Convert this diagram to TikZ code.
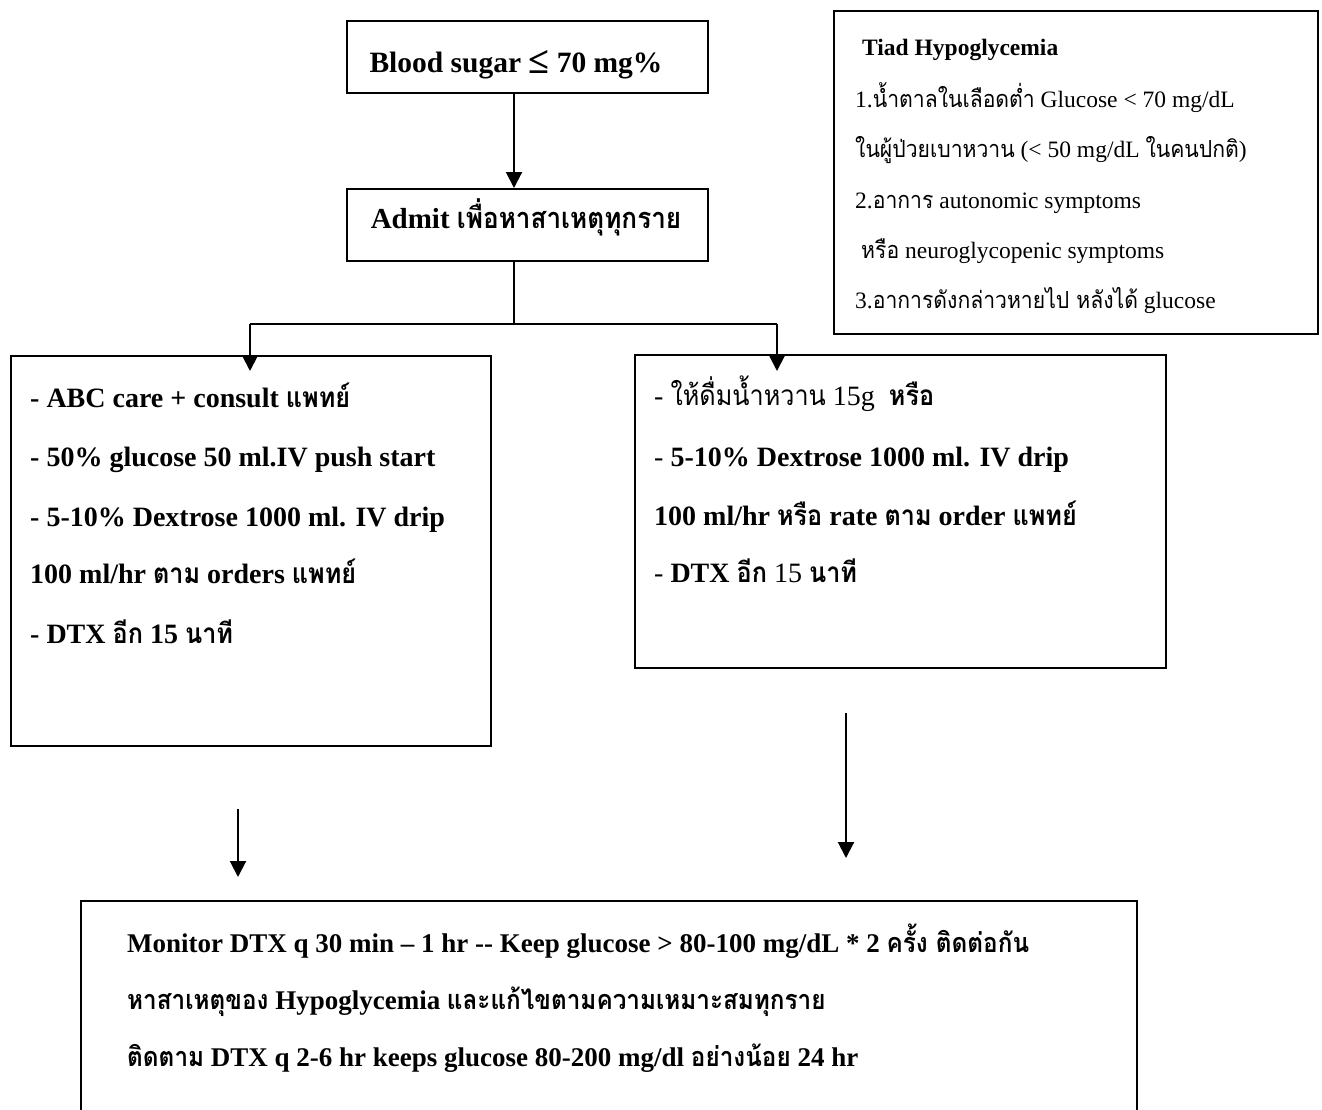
\documentclass[tikz,border=0pt]{standalone}
\usepackage{fontspec}
\setmainfont{Liberation Serif}
\newfontfamily\thaifont[Script=Thai, FakeStretch=0.9]{Loma}
\newcommand{\thx}[1]{{\thaifont #1}}
\newcommand{\bigle}{{\fontsize{38}{38}\selectfont\raisebox{-1pt}{≤}}}
\usetikzlibrary{arrows.meta}
\tikzset{
  box/.style={draw, line width=2pt, inner sep=0pt, anchor=north west},
  txt/.style={anchor=base west, inner sep=0pt},
  ctxt/.style={anchor=base, inner sep=0pt},
  mainf/.style={font=\fontsize{28}{34}\selectfont\bfseries},
  smallf/.style={font=\fontsize{23.5}{28}\selectfont},
  botf/.style={font=\fontsize{27}{32}\selectfont\bfseries},
  conn/.style={line width=2pt},
  arr/.style={line width=2pt, -{Triangle[width=16pt,length=16pt]}}
}
\begin{document}
\begin{tikzpicture}[x=1pt, y=-1pt]
\useasboundingbox (0,0) rectangle (1322,1109);
\clip (0,0) rectangle (1322,1109);

% boxes
\node[box, minimum width=361pt, minimum height=72pt] (b1) at (346,20) {};
\node[box, minimum width=361pt, minimum height=72pt] (b2) at (346,188) {};
\node[box, minimum width=480pt, minimum height=390pt] (lbox) at (10,355) {};
\node[box, minimum width=531pt, minimum height=313pt] (rbox) at (634,354) {};
\node[box, minimum width=484pt, minimum height=323pt] (tiad) at (833,10) {};
\node[box, minimum width=1056pt, minimum height=240pt] (bbox) at (80,900) {};

% box texts
\node[ctxt, font=\fontsize{29.5}{34}\selectfont\bfseries] (t1) at (516,72) {Blood sugar \bigle{} 70 mg\%};
\node[ctxt, font=\fontsize{29}{34}\selectfont\bfseries] (t2) at (526,228) {Admit \thx{เพื่อหาสาเหตุทุกราย}};

\node[txt, mainf] (l1) at (30,407) {- ABC care + consult \thx{แพทย์}};
\node[txt, mainf] (l2) at (30,466) {- 50\% glucose 50 ml.IV push start};
\node[txt, mainf] (l3) at (30,526) {- 5-10\% Dextrose 1000 ml. IV drip};
\node[txt, mainf] (l4) at (30,583) {100 ml/hr \thx{ตาม} orders \thx{แพทย์}};
\node[txt, mainf] (l5) at (30,643) {- DTX \thx{อีก} 15 \thx{นาที}};

\node[txt, mainf] (r1) at (654,405) {{\mdseries - \thx{ให้ดื่มน้ำหวาน} 15g}\ \ \thx{หรือ}};
\node[txt, mainf] (r2) at (654,466) {{\mdseries -} 5-10\% Dextrose 1000 ml. IV drip};
\node[txt, mainf] (r3) at (654,525) {100 ml/hr \thx{หรือ} rate \thx{ตาม} order \thx{แพทย์}};
\node[txt, mainf] (r4) at (654,582) {{\mdseries -} DTX \thx{อีก} {\mdseries 15} \thx{นาที}};

\node[txt, smallf] (s0) at (862,55) {\textbf{Tiad Hypoglycemia}};
\node[txt, smallf] (s1) at (855,107) {1.\thx{น้ำตาลในเลือดต่ำ} Glucose < 70 mg/dL};
\node[txt, smallf] (s2) at (855,157) {\thx{ในผู้ป่วยเบาหวาน} (< 50 mg/dL \thx{ในคนปกติ})};
\node[txt, smallf] (s3) at (855,208) {2.\thx{อาการ} autonomic symptoms};
\node[txt, smallf] (s4) at (861,258) {\thx{หรือ} neuroglycopenic symptoms};
\node[txt, smallf] (s5) at (855,308) {3.\thx{อาการดังกล่าวหายไป หลังได้} glucose};

\node[txt, botf] (m1) at (127,952) {Monitor DTX q 30 min – 1 hr -\kern0pt- Keep glucose > 80-100 mg/dL * 2 \thx{ครั้ง ติดต่อกัน}};
\node[txt, botf] (m2) at (127,1009) {\thx{หาสาเหตุของ} Hypoglycemia \thx{และแก้ไขตามความเหมาะสมทุกราย}};
\node[txt, botf] (m3) at (127,1066) {\thx{ติดตาม} DTX q 2-6 hr keeps glucose 80-200 mg/dl \thx{อย่างน้อย} 24 hr};

% connectors
\coordinate (a1) at (514,92);
\coordinate (a2) at (514,188);
\coordinate (a3) at (514,260);
\coordinate (jc) at (514,324);
\coordinate (jl) at (250,324);
\coordinate (jr) at (777,324);
\coordinate (tl) at (250,371);
\coordinate (tr) at (777,371);
\coordinate (pl1) at (238,809);
\coordinate (pl2) at (238,877);
\coordinate (pr1) at (846,713);
\coordinate (pr2) at (846,858);

\draw[arr] (a1) -- (a2);
\draw[conn] (a3) -- (jc);
\draw[conn] (jl) -- (jr);
\draw[arr] (jl) -- (tl);
\draw[arr] (jr) -- (tr);
\draw[arr] (pl1) -- (pl2);
\draw[arr] (pr1) -- (pr2);
\end{tikzpicture}
\end{document}
